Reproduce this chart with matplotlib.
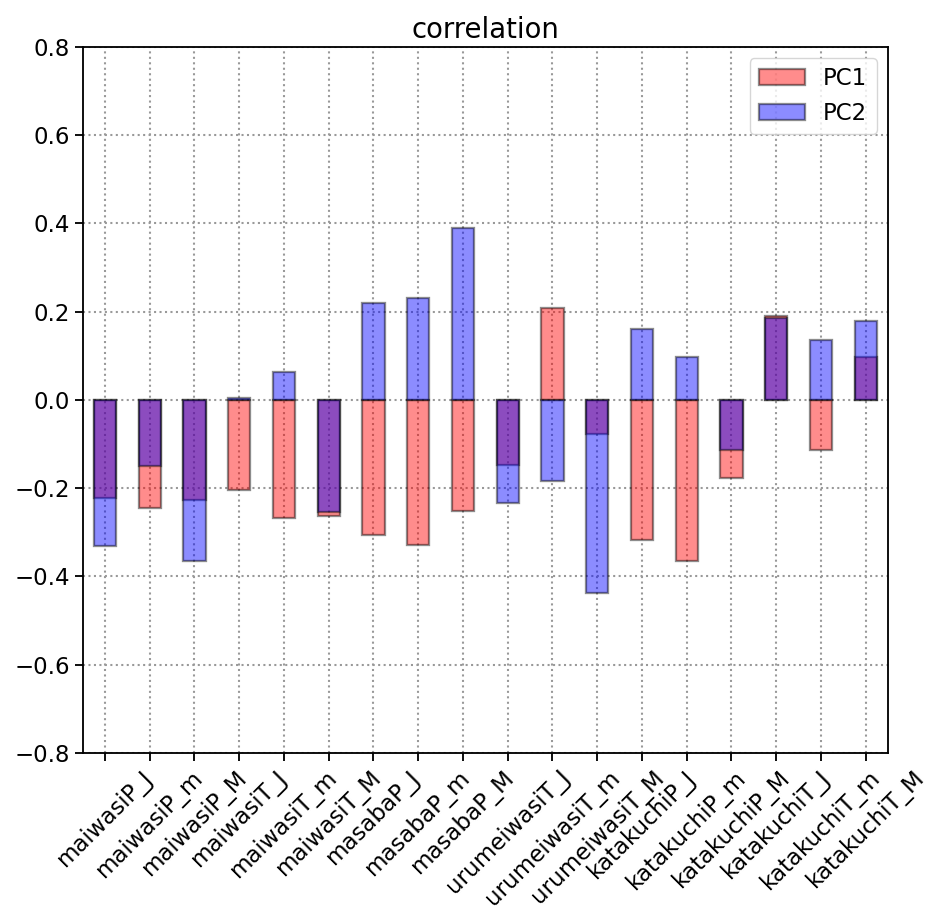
import numpy as np
import matplotlib
matplotlib.use('Agg')
import matplotlib.pyplot as plt

# 各变量名称
labels = ['maiwasiP_J', 'maiwasiP_m', 'maiwasiP_M',
          'maiwasiT_J', 'maiwasiT_m', 'maiwasiT_M',
          'masabaP_J', 'masabaP_m', 'masabaP_M',
          'urumeiwasiT_J', 'urumeiwasiT_m', 'urumeiwasiT_M',
          'katakuchiP_J', 'katakuchiP_m', 'katakuchiP_M',
          'katakuchiT_J', 'katakuchiT_m', 'katakuchiT_M']

# 主成分相关系数
pc1 = [-0.223, -0.245, -0.226, -0.205, -0.268, -0.263,
       -0.306, -0.330, -0.251, -0.147, 0.207, -0.077,
       -0.317, -0.365, -0.178, 0.189, -0.114, 0.097]
pc2 = [-0.332, -0.151, -0.366, 0.003, 0.064, -0.254,
       0.219, 0.230, 0.390, -0.233, -0.185, -0.439,
       0.160, 0.097, -0.113, 0.186, 0.136, 0.178]

s = 1.65
plt.rcParams['font.family'] = ['DejaVu Sans']
plt.rcParams['font.size'] = 10 * s
plt.rcParams['axes.linewidth'] = 0.8 * s
plt.rcParams['xtick.major.size'] = 3.5 * s
plt.rcParams['ytick.major.size'] = 3.5 * s
plt.rcParams['xtick.major.width'] = 0.8 * s
plt.rcParams['ytick.major.width'] = 0.8 * s

fig = plt.figure(figsize=(9.28, 9.18), dpi=100)
ax = fig.add_axes([0.089, 0.180, 0.868, 0.769])

x = np.arange(len(labels))
ax.bar(x, pc1, width=0.5, color='red', edgecolor='black', linewidth=1.0 * s,
       alpha=0.45, label='PC1')
ax.bar(x, pc2, width=0.5, color='blue', edgecolor='black', linewidth=1.0 * s,
       alpha=0.45, label='PC2')

ax.set_xlim(-0.5, len(labels) - 0.5)
ax.set_ylim(-0.8, 0.8)
ax.set_yticks(np.arange(-0.8, 0.81, 0.2))
ax.set_xticks(x)
ax.set_xticklabels(labels, rotation=45)
ax.grid(True, linestyle=':', color='#999999', linewidth=0.9 * s)
ax.set_axisbelow(True)
ax.set_title('correlation')
ax.legend(loc='upper right')

fig.savefig('out.png', dpi=100)
